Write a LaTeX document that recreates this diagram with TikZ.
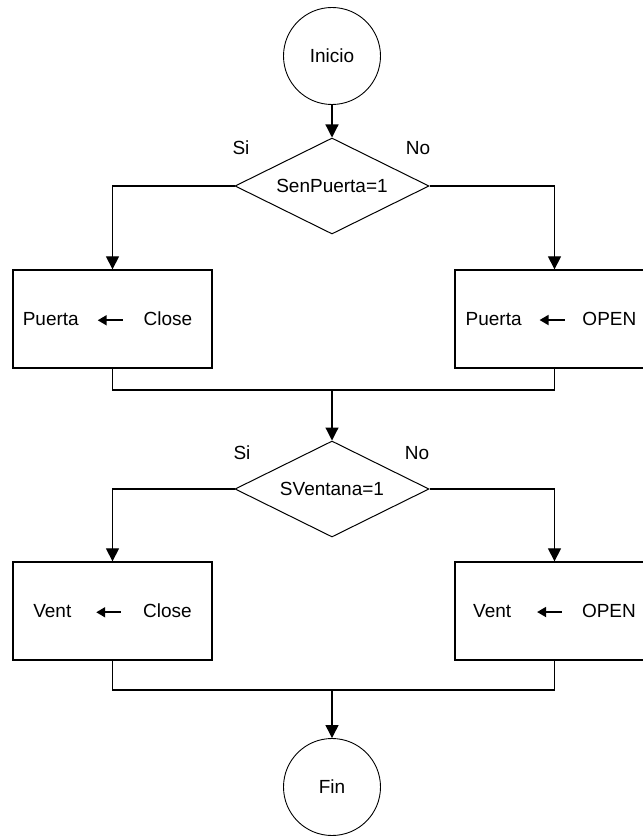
\documentclass[tikz,border=0pt]{standalone}
\usepackage{fontspec}
\setmainfont{Liberation Sans}
\usetikzlibrary{shapes.geometric,arrows.meta}

% assignment arrow used inside the process boxes
\newcommand\assignarrow{\tikz[baseline=-0.55ex]\draw[line width=1.8pt,{Triangle[length=9pt,width=10pt]}-] (0pt,0pt)--(25pt,0pt);}

\begin{document}
\begin{tikzpicture}[x=1pt,y=-1pt,
  font=\fontsize{19}{22}\selectfont,
  line width=1.2pt,
  term/.style={circle,draw,line width=0.9pt,minimum size=97pt,inner sep=0pt},
  decision/.style={diamond,draw,line width=1pt,aspect=2,minimum width=194pt,minimum height=96pt,inner sep=1pt},
  procbox/.style={rectangle,draw,line width=1.3pt,minimum width=199pt,minimum height=98pt,inner sep=0pt},
  flow/.style={-{Triangle[length=13pt,width=13pt]}},
  branch/.style={inner sep=0pt}
]
\useasboundingbox (0,0) rectangle (642,837);
\fill[white] (0,0) rectangle (642,837);

% nodes
\node[term] (ini) at (332,56) {Inicio};
\node[decision] (d1) at (332,186) {SenPuerta=1};
\node[procbox] (b1) at (112.5,319) {Puerta\hspace{18pt}\assignarrow\hspace{20pt}Close\hspace*{10pt}};
\node[procbox] (b2) at (554.5,319) {Puerta\hspace{17pt}\assignarrow\hspace{17pt}OPEN\hspace*{7pt}};
\coordinate (j1) at (332,390);
\node[decision] (d2) at (332,489) {SVentana=1};
\node[procbox] (b3) at (112.5,611) {Vent\hspace{24pt}\assignarrow\hspace{21pt}Close};
\node[procbox] (b4) at (554.5,611) {Vent\hspace{25pt}\assignarrow\hspace{19pt}OPEN};
\coordinate (j2) at (332,690);
\node[term] (fin) at (332,787) {Fin};

% branch labels
\node[branch] (si1) at (241,148) {Si};
\node[branch] (no1) at (418,148) {No};
\node[branch] (si2) at (242,453) {Si};
\node[branch] (no2) at (417,453) {No};

% connectors
\draw[flow] (ini) -- (d1);
\draw[flow] (d1.west) -| (b1.north);
\draw[flow] (d1.east) -| (b2.north);
\draw (b1.south) |- (j1);
\draw (b2.south) |- (j1);
\draw[flow] (j1) -- (d2);
\draw[flow] (d2.west) -| (b3.north);
\draw[flow] (d2.east) -| (b4.north);
\draw (b3.south) |- (j2);
\draw (b4.south) |- (j2);
\draw[flow] (j2) -- (fin);
\end{tikzpicture}
\end{document}
